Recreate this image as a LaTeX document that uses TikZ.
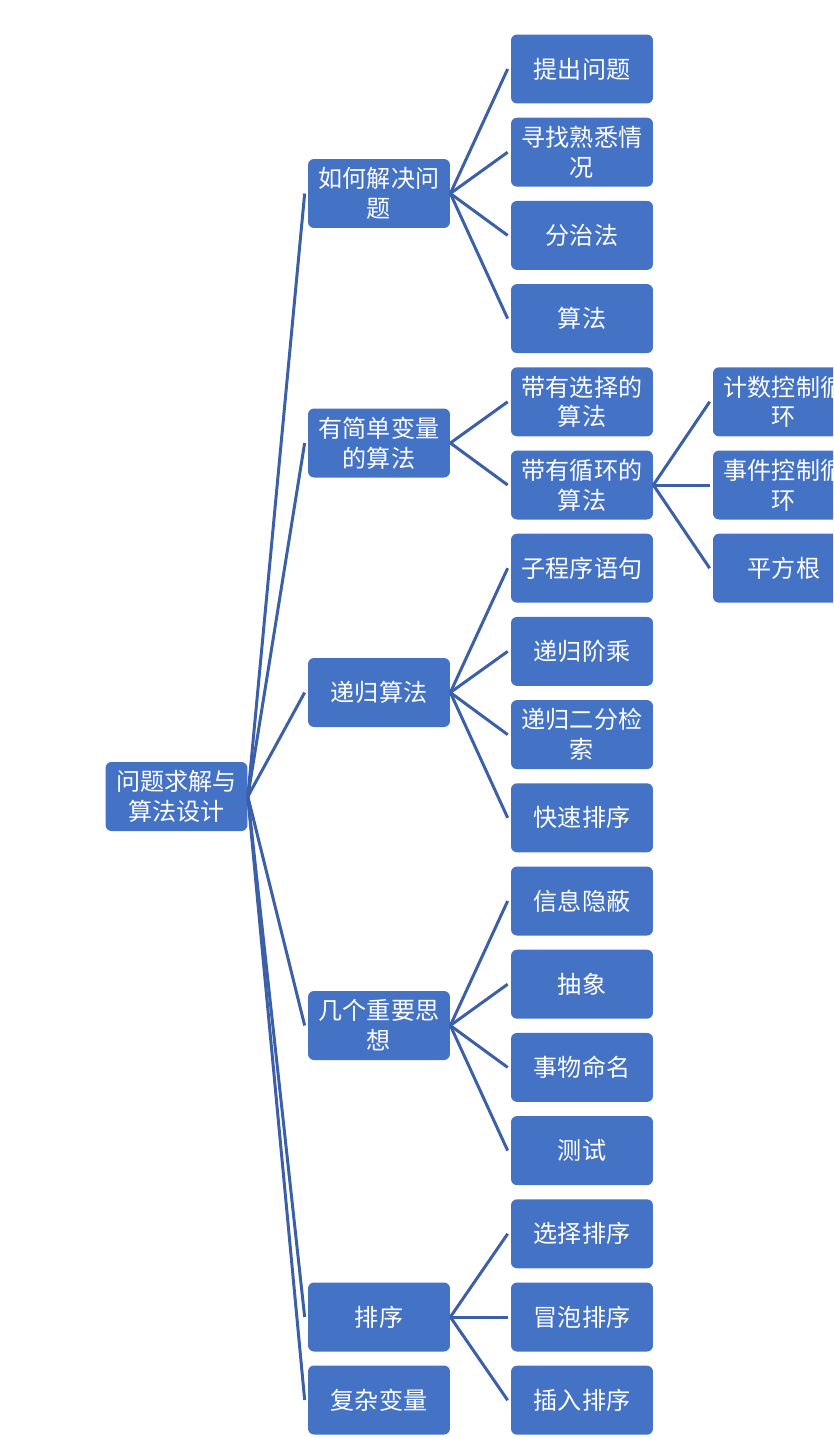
\documentclass[tikz,border=0pt]{standalone}
\usepackage{fontspec}
\newfontfamily\cjk{Noto Sans CJK SC}
\usetikzlibrary{calc}

\definecolor{boxblue}{RGB}{68,114,196}
\definecolor{lineblue}{RGB}{59,96,168}

\begin{document}
\begin{tikzpicture}[x=0.02cm, y=-0.02cm,
    topic/.style={rectangle, rounded corners=0.12cm, fill=boxblue, text=white,
      minimum width=2.84cm, minimum height=1.38cm, inner sep=0pt, align=center,
      font=\cjk\fontsize{13.7}{17}\selectfont},
    link/.style={draw=lineblue, line width=1.7pt}]
    \clip (0,0) rectangle (833,1437);

    \node[topic] (root) at (176.5, 796.5) {问题求解与\\算法设计};

    \node[topic] (howto) at (379, 193.5) {如何解决问\\题};
    \node[topic] (simplevar) at (379, 443) {有简单变量\\的算法};
    \node[topic] (recur) at (379, 692.5) {递归算法};
    \node[topic] (ideas) at (379, 1025.5) {几个重要思\\想};
    \node[topic] (sorting) at (379, 1317) {排序};
    \node[topic] (complexvar) at (379, 1400) {复杂变量};

    \node[topic] (h1) at (582, 69) {提出问题};
    \node[topic] (h2) at (582, 152.2) {寻找熟悉情\\况};
    \node[topic] (h3) at (582, 235.4) {分治法};
    \node[topic] (h4) at (582, 318.6) {算法};
    \node[topic] (s1) at (582, 401.8) {带有选择的\\算法};
    \node[topic] (s2) at (582, 485) {带有循环的\\算法};
    \node[topic] (r1) at (582, 568.2) {子程序语句};
    \node[topic] (r2) at (582, 651.4) {递归阶乘};
    \node[topic] (r3) at (582, 734.6) {递归二分检\\索};
    \node[topic] (r4) at (582, 817.8) {快速排序};
    \node[topic] (i1) at (582, 901) {信息隐蔽};
    \node[topic] (i2) at (582, 984.2) {抽象};
    \node[topic] (i3) at (582, 1067.4) {事物命名};
    \node[topic] (i4) at (582, 1150.6) {测试};
    \node[topic] (t1) at (582, 1233.8) {选择排序};
    \node[topic] (t2) at (582, 1317) {冒泡排序};
    \node[topic] (t3) at (582, 1400.2) {插入排序};

    \node[topic] (l1) at (784, 401.8) {计数控制循\\环};
    \node[topic] (l2) at (784, 485) {事件控制循\\环};
    \node[topic] (l3) at (784, 568.2) {平方根};

    \foreach \c in {howto, simplevar, recur, ideas, sorting, complexvar}
      \draw[link] (root.east) -- ([xshift=-0.06cm]\c.west);
    \foreach \c in {h1, h2, h3, h4}
      \draw[link] (howto.east) -- ([xshift=-0.06cm]\c.west);
    \foreach \c in {s1, s2}
      \draw[link] (simplevar.east) -- ([xshift=-0.06cm]\c.west);
    \foreach \c in {r1, r2, r3, r4}
      \draw[link] (recur.east) -- ([xshift=-0.06cm]\c.west);
    \foreach \c in {i1, i2, i3, i4}
      \draw[link] (ideas.east) -- ([xshift=-0.06cm]\c.west);
    \foreach \c in {t1, t2, t3}
      \draw[link] (sorting.east) -- ([xshift=-0.06cm]\c.west);
    \foreach \c in {l1, l2, l3}
      \draw[link] (s2.east) -- ([xshift=-0.06cm]\c.west);
\end{tikzpicture}
\end{document}
